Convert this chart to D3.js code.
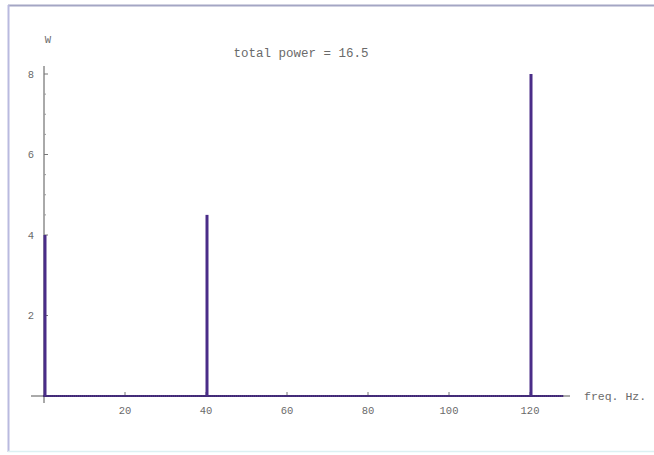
<!DOCTYPE html>
<html>
<head>
<meta charset="utf-8">
<script src="https://cdn.jsdelivr.net/npm/d3@7"></script>
<style>
html,body{margin:0;padding:0;background:#fff;}
svg{display:block;}
text{font-family:"Liberation Mono","DejaVu Sans Mono",monospace;fill:#6a6a6a;}
</style>
</head>
<body>
<svg id="chart" width="654" height="455"></svg>
<script>
// ---- data ----
const peakFreqs = [0, 40, 120];          // Hz
const peakPowers = [4.0, 4.5, 8.0];      // W
const xTickValues = [20, 40, 60, 80, 100, 120];
const yTickValues = [2, 4, 6, 8];
const freqMax = 128;                     // last spectral sample (Hz)
const sampleStep = 0.5;                  // spectral resolution (Hz)
const titleText = "total power = 16.5";
const xLabel = "freq. Hz.";
const yLabel = "W";

const svg = d3.select("#chart");
const x = d3.scaleLinear().domain([0, 120]).range([44, 530]);
const y = d3.scaleLinear().domain([0, 8]).range([396, 74]);
const purple = "#4a2d88";

// frame
svg.append("line").attr("x1", 8).attr("x2", 654).attr("y1", 5.5).attr("y2", 5.5)
  .attr("stroke", "#a4a6c4").attr("stroke-width", 2);
svg.append("line").attr("x1", 8.5).attr("x2", 8.5).attr("y1", 5).attr("y2", 452)
  .attr("stroke", "#b9badf").attr("stroke-width", 2);
svg.append("line").attr("x1", 8).attr("x2", 654).attr("y1", 451.5).attr("y2", 451.5)
  .attr("stroke", "#dcf0f2").attr("stroke-width", 1.5);

// axes lines
svg.append("line").attr("x1", 31).attr("x2", 570).attr("y1", y(0)).attr("y2", y(0))
  .attr("stroke", "#555").attr("stroke-width", 1);
svg.append("line").attr("x1", x(0)).attr("x2", x(0)).attr("y1", 403).attr("y2", 66)
  .attr("stroke", "#555").attr("stroke-width", 1);

// x ticks
const xt = svg.append("g");
xt.selectAll("line.maj").data(xTickValues).join("line").attr("class","maj")
  .attr("x1", d => x(d)).attr("x2", d => x(d)).attr("y1", y(0)).attr("y2", y(0) - 4)
  .attr("stroke", "#777");
xt.selectAll("text").data(xTickValues).join("text")
  .attr("x", d => x(d)).attr("y", 414).attr("text-anchor", "middle")
  .attr("font-size", 10.5).text(d => d);

// y ticks
const yt = svg.append("g");
yt.selectAll("line.maj").data(yTickValues).join("line").attr("class","maj")
  .attr("x1", x(0)).attr("x2", x(0) + 4).attr("y1", d => y(d)).attr("y2", d => y(d))
  .attr("stroke", "#777");
const minorY = d3.range(0.5, 8.01, 0.5).filter(v => !yTickValues.includes(v));
yt.selectAll("line.min").data(minorY).join("line").attr("class","min")
  .attr("x1", x(0)).attr("x2", x(0) + 2).attr("y1", d => y(d)).attr("y2", d => y(d))
  .attr("stroke", "#999");
yt.selectAll("text").data(yTickValues).join("text")
  .attr("x", 34).attr("y", d => y(d) + 3.5).attr("text-anchor", "end")
  .attr("font-size", 10.5).text(d => d);

// spectrum: baseline samples (zero power) + peaks
const freqs = d3.range(0, freqMax + 0.001, sampleStep);
const power = f => { const i = peakFreqs.indexOf(f); return i >= 0 ? peakPowers[i] : 0; };
const spec = freqs.map(f => ({ f, w: power(f) }));

svg.append("line").attr("x1", x(0)).attr("x2", x(freqMax)).attr("y1", y(0)).attr("y2", y(0))
  .attr("stroke", "#6a4fa0").attr("stroke-width", 2);
svg.append("g").selectAll("circle").data(spec).join("circle")
  .attr("cx", d => x(d.f)).attr("cy", y(0)).attr("r", 1.1).attr("fill", "#3c2570");

svg.append("g").selectAll("line").data(peakFreqs.map((f, i) => ({ f, w: peakPowers[i] }))).join("line")
  .attr("x1", d => x(d.f) + 1).attr("x2", d => x(d.f) + 1)
  .attr("y1", y(0)).attr("y2", d => y(d.w))
  .attr("stroke", purple).attr("stroke-width", 3);

// labels
svg.append("text").attr("x", 301).attr("y", 57).attr("text-anchor", "middle")
  .attr("font-size", 12.5).text(titleText);
svg.append("text").attr("x", 584).attr("y", 400)
  .attr("font-size", 11.5).text(xLabel);
svg.append("text").attr("x", 48).attr("y", 43).attr("text-anchor", "middle")
  .attr("font-size", 10.5).text(yLabel);
</script>
</body>
</html>
